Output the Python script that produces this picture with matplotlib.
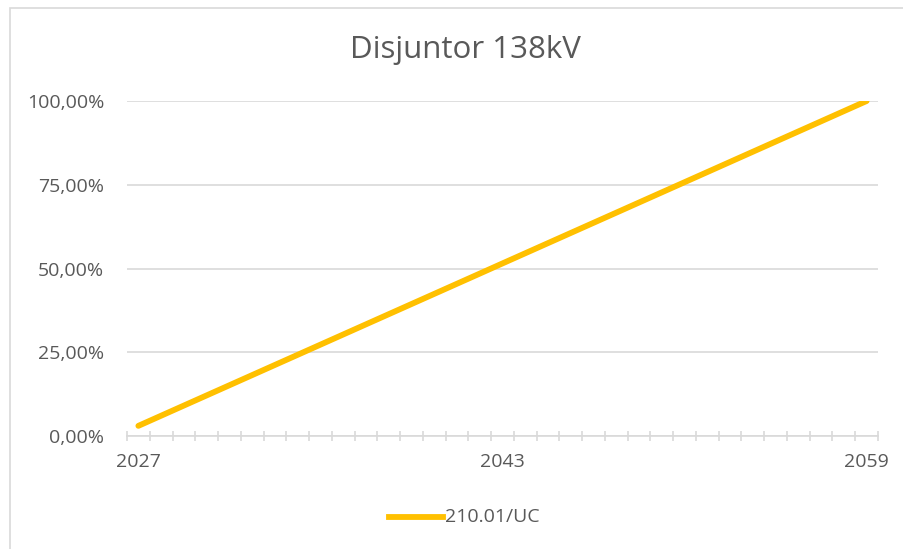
import matplotlib
matplotlib.use("Agg")
import matplotlib.pyplot as plt
from matplotlib.patches import Rectangle
from matplotlib.lines import Line2D

# dados
anos = list(range(2027, 2060))
valores = [3.03, 6.06, 9.09, 12.12, 15.15, 18.18, 21.21, 24.24, 27.27, 30.30,
           33.33, 36.36, 39.39, 42.42, 45.45, 48.48, 51.52, 54.55, 57.58, 60.61,
           63.64, 66.67, 69.70, 72.73, 75.76, 78.79, 81.82, 84.85, 87.88, 90.91,
           93.94, 96.97, 100.00]
rotulos_y = ["0,00%", "25,00%", "50,00%", "75,00%", "100,00%"]
niveis_y = [0, 25, 50, 75, 100]
serie = "210.01/UC"
titulo = "Disjuntor 138kV"

cinza_txt = "#595959"
cinza_lin = "#d9d9d9"
ouro = "#FFC000"

plt.rcParams['font.family'] = ['Open Sans', 'DejaVu Sans']

fig = plt.figure(figsize=(9.04, 5.49), dpi=100)
fig.patches.append(Rectangle((10/904, -0.1), 1.2, 1 - 8/549 + 0.1,
                             transform=fig.transFigure, fill=False,
                             edgecolor=cinza_lin, linewidth=1.2))

ax = fig.add_axes([127/904, 1 - 436/549, (878 - 127)/904, (436 - 101)/549])
x = list(range(len(anos)))
ax.plot(x, valores, color=ouro, linewidth=4.2, solid_capstyle='round')

ax.set_xlim(-0.5, len(anos) - 0.5)
ax.set_ylim(0, 100)
for s in ['top', 'right', 'left']:
    ax.spines[s].set_visible(False)
ax.spines['bottom'].set_color(cinza_lin)
ax.spines['bottom'].set_linewidth(1.2)

ax.set_yticks(niveis_y)
ax.set_yticklabels(rotulos_y, color=cinza_txt, fontsize=14)
ax.tick_params(axis='y', length=0, pad=16.5)
ax.yaxis.grid(True, color=cinza_lin, linewidth=1.2)
ax.set_axisbelow(True)

ax.set_xticks([i - 0.5 for i in range(len(anos) + 1)], minor=True)
ax.tick_params(axis='x', which='minor', length=7, direction='inout',
               color=cinza_lin, width=1.2)
idx = [0, 16, 32]
ax.set_xticks(idx)
ax.set_xticklabels([str(anos[i]) for i in idx], color=cinza_txt, fontsize=14)
ax.tick_params(axis='x', which='major', length=0, pad=12)

fig.text(465/904, 1 - 50/549, titulo, ha='center', va='center',
         fontsize=22.5, color=cinza_txt)

leg_y = 1 - 517/549
fig.lines.append(Line2D([389/904, 443/904], [leg_y, leg_y], color=ouro,
                        linewidth=4.2, transform=fig.transFigure))
fig.text(445/904, leg_y, serie, ha='left', va='center', fontsize=14,
         color=cinza_txt)

fig.savefig("out.png", dpi=100)
